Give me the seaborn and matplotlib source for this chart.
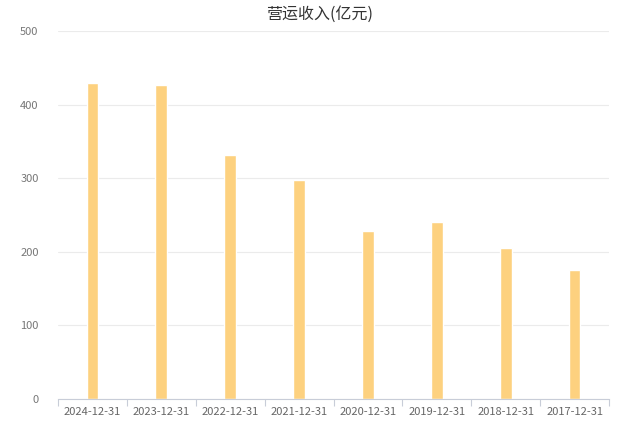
import numpy as np
import pandas as pd
import matplotlib.pyplot as plt
import seaborn as sb

# dados
datas = ['2024-12-31', '2023-12-31', '2022-12-31', '2021-12-31',
         '2020-12-31', '2019-12-31', '2018-12-31', '2017-12-31']
receita = [429, 426, 332, 297, 228, 240, 205, 175]
ticks_y = [0, 100, 200, 300, 400, 500]

df = pd.DataFrame({'data': datas, 'receita': receita})

sb.set_style('white')
plt.rcParams['font.family'] = ['Noto Sans CJK SC', 'DejaVu Sans']

fig = plt.figure(figsize=(6.4, 4.28), dpi=100)
ax = fig.add_axes([58 / 640, 1 - 399 / 428, 551 / 640, 368 / 428])

sb.barplot(data=df, x='data', y='receita', color='#FDD17F', saturation=1,
           width=0.17, ax=ax)

ax.set_ylim(0, 500)
ax.set_xlim(-0.5, len(datas) - 0.5)
ax.set_yticks(ticks_y)
ax.grid(axis='y', color='#EBEBEB', linewidth=0.8)
ax.set_axisbelow(True)
for s in ['top', 'right', 'left']:
    ax.spines[s].set_visible(False)
ax.spines['bottom'].set_color('#C8CDD8')

# ticks do eixo x nas fronteiras das categorias
ax.set_xticks(np.arange(len(datas)))
ax.set_xticklabels(datas)
ax.tick_params(axis='x', length=0, labelsize=8, colors='#666666', pad=6)
ax.set_xticks(np.arange(len(datas) + 1) - 0.5, minor=True)
ax.tick_params(axis='x', which='minor', bottom=True, length=5,
               width=0.8, color='#C8CDD8')
ax.tick_params(axis='y', length=0, labelsize=8, colors='#777777', pad=14)

ax.set_xlabel('')
ax.set_ylabel('')
fig.text(0.5, 0.966, '营运收入(亿元)', ha='center', va='center',
         fontsize=11.5, color='#333333')

fig.savefig('out.png', dpi=100)
